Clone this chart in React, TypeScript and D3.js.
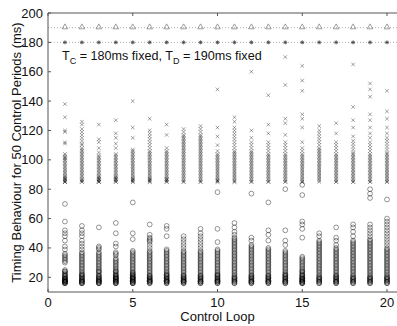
import React from 'react';
import * as d3 from 'd3';

// control loops 1..20, values in ms (dense columns thinned)
const loops = d3.range(1, 21);

const tc = 180;
const td = 190;

const circleVals: number[][] = [
  [70, 58, 52, 50, 48, 45, 41, 39, 36, 35, 34, 33, 32, 31, 30, 25, 24, 24, 23, 22, 22, 21, 21, 20, 20, 19, 19, 19, 18, 18, 18, 18, 17, 17, 17, 17, 17, 16, 16, 16],
  [55, 52, 50, 48, 45, 43, 41, 39, 37, 36, 35, 34, 33, 32, 31, 30, 29, 28, 27, 26, 25, 24, 23, 22, 22, 21, 21, 20, 20, 19, 19, 18, 18, 18, 17, 17, 17, 16, 16, 16],
  [54, 41, 40, 39, 37, 36, 35, 34, 33, 32, 31, 30, 29, 28, 27, 26, 25, 24, 24, 23, 22, 21, 21, 20, 20, 19, 19, 18, 18, 18, 17, 17, 17, 16, 16, 16],
  [57, 50, 43, 41, 37, 36, 35, 33, 32, 31, 30, 29, 28, 27, 26, 25, 24, 24, 23, 22, 22, 21, 21, 20, 20, 20, 19, 19, 19, 18, 18, 18, 17, 17, 17, 16, 16, 16],
  [71, 50, 46, 38, 37, 36, 35, 34, 33, 32, 31, 30, 29, 28, 27, 26, 25, 24, 23, 23, 22, 22, 21, 21, 20, 20, 20, 19, 19, 19, 18, 18, 18, 17, 17, 17, 16, 16, 16],
  [56, 49, 47, 46, 45, 44, 42, 40, 38, 37, 36, 35, 34, 33, 32, 31, 30, 29, 28, 27, 26, 25, 24, 23, 22, 21, 21, 20, 20, 19, 19, 18, 18, 18, 17, 17, 17, 16, 16],
  [55, 53, 48, 39, 38, 37, 36, 35, 34, 33, 32, 31, 30, 29, 28, 27, 26, 25, 24, 23, 22, 22, 21, 21, 20, 20, 19, 19, 18, 18, 18, 17, 17, 17, 16, 16],
  [48, 46, 44, 42, 40, 38, 37, 36, 35, 34, 33, 32, 31, 30, 29, 28, 27, 26, 25, 24, 23, 22, 21, 21, 20, 20, 19, 19, 18, 18, 18, 17, 17, 17, 16, 16],
  [53, 50, 48, 46, 44, 42, 40, 38, 37, 36, 35, 34, 33, 32, 31, 30, 29, 28, 27, 26, 25, 24, 23, 22, 21, 21, 20, 20, 19, 19, 18, 18, 17, 17, 17, 16, 16],
  [78, 53, 44, 39, 38, 37, 36, 35, 34, 33, 32, 31, 30, 29, 28, 27, 26, 25, 24, 23, 22, 22, 21, 21, 20, 20, 19, 19, 18, 18, 18, 17, 17, 17, 16, 16],
  [57, 54, 51, 49, 47, 46, 45, 44, 43, 42, 41, 40, 39, 38, 37, 36, 35, 34, 33, 32, 31, 30, 29, 28, 27, 26, 25, 24, 23, 22, 21, 20, 20, 19, 19, 18, 18, 17, 17, 16, 16],
  [77, 47, 45, 42, 41, 40, 39, 38, 37, 36, 35, 34, 33, 32, 31, 30, 29, 28, 27, 26, 25, 24, 23, 22, 21, 21, 20, 20, 19, 19, 18, 18, 17, 17, 17, 16, 16],
  [71, 52, 49, 45, 40, 39, 38, 37, 36, 35, 34, 33, 32, 31, 30, 29, 28, 27, 26, 25, 24, 23, 22, 21, 21, 20, 20, 19, 19, 18, 18, 17, 17, 17, 16, 16],
  [80, 52, 45, 42, 38, 37, 36, 35, 34, 33, 32, 31, 30, 29, 28, 27, 26, 25, 24, 23, 22, 22, 21, 21, 20, 20, 19, 19, 18, 18, 17, 17, 17, 16, 16],
  [83, 76, 58, 56, 53, 47, 34, 33, 32, 31, 30, 29, 28, 27, 26, 25, 24, 24, 23, 22, 22, 21, 21, 20, 20, 19, 19, 19, 18, 18, 18, 17, 17, 17, 16, 16, 16],
  [50, 48, 45, 44, 43, 42, 41, 40, 39, 38, 37, 36, 35, 34, 33, 32, 31, 30, 29, 28, 27, 26, 25, 24, 23, 22, 21, 20, 20, 19, 19, 18, 18, 17, 17, 16, 16],
  [54, 47, 45, 42, 40, 39, 38, 37, 36, 35, 34, 33, 32, 31, 30, 29, 28, 27, 26, 25, 24, 23, 22, 21, 21, 20, 20, 19, 19, 18, 18, 17, 17, 17, 16, 16],
  [56, 54, 51, 48, 45, 44, 43, 42, 41, 40, 39, 38, 37, 36, 35, 34, 33, 32, 31, 30, 29, 28, 27, 26, 25, 24, 23, 22, 21, 20, 20, 19, 19, 18, 18, 17, 17, 16, 16],
  [80, 77, 74, 56, 54, 52, 50, 48, 46, 45, 44, 43, 42, 41, 40, 39, 38, 37, 36, 35, 34, 33, 32, 31, 30, 29, 28, 27, 26, 25, 24, 23, 22, 21, 20, 20, 19, 19, 18, 18, 17, 17, 16, 16],
  [73, 60, 58, 56, 54, 52, 50, 48, 46, 44, 42, 40, 39, 38, 37, 36, 35, 34, 33, 32, 31, 30, 29, 28, 27, 26, 25, 24, 23, 22, 21, 20, 20, 19, 19, 18, 18, 17, 17, 16, 16],
];

const crossVals: number[][] = [
  [138, 129, 120, 119, 112, 111, 104, 103, 102, 101, 101, 100, 99, 98, 97, 96, 95, 94, 93, 92, 91, 90, 89, 88, 88, 87, 87, 86, 86, 85, 85, 85],
  [126, 124, 121, 119, 117, 115, 113, 111, 110, 108, 107, 106, 105, 104, 103, 102, 101, 100, 99, 98, 97, 96, 95, 94, 93, 92, 91, 90, 89, 88, 87, 86, 86, 85, 85],
  [124, 114, 112, 108, 105, 103, 102, 101, 100, 99, 98, 97, 96, 95, 94, 93, 92, 91, 90, 89, 88, 88, 87, 87, 86, 86, 85, 85, 85],
  [127, 118, 115, 111, 108, 104, 103, 102, 101, 100, 99, 98, 97, 96, 95, 94, 93, 92, 91, 90, 89, 88, 88, 87, 87, 86, 86, 85, 85],
  [140, 122, 115, 107, 106, 105, 104, 103, 102, 101, 100, 99, 98, 97, 96, 95, 94, 93, 92, 91, 90, 89, 88, 87, 87, 86, 86, 85, 85],
  [128, 120, 118, 116, 114, 112, 110, 108, 106, 105, 104, 103, 102, 101, 100, 99, 98, 97, 96, 95, 94, 93, 92, 91, 90, 89, 88, 87, 87, 86, 86, 85, 85],
  [124, 117, 108, 106, 105, 104, 103, 102, 101, 100, 99, 98, 97, 96, 95, 94, 93, 92, 91, 90, 89, 88, 87, 87, 86, 86, 85, 85],
  [121, 119, 117, 116, 115, 114, 113, 112, 111, 110, 109, 108, 107, 106, 105, 104, 103, 102, 101, 100, 99, 98, 97, 96, 95, 94, 93, 92, 91, 90, 89, 88, 87, 86, 85, 85],
  [123, 121, 119, 117, 116, 115, 114, 113, 112, 111, 110, 109, 108, 107, 106, 105, 104, 103, 102, 101, 100, 99, 98, 97, 96, 95, 94, 93, 92, 91, 90, 89, 88, 87, 86, 85, 85],
  [148, 122, 116, 110, 106, 104, 103, 102, 101, 100, 99, 98, 97, 96, 95, 94, 93, 92, 91, 90, 89, 88, 87, 86, 86, 85, 85],
  [129, 126, 122, 120, 118, 116, 114, 112, 110, 108, 106, 105, 104, 103, 102, 101, 100, 99, 98, 97, 96, 95, 94, 93, 92, 91, 90, 89, 88, 87, 86, 85, 85],
  [160, 120, 115, 112, 110, 108, 106, 105, 104, 103, 102, 101, 100, 99, 98, 97, 96, 95, 94, 93, 92, 91, 90, 89, 88, 87, 86, 85, 85],
  [144, 124, 118, 112, 110, 108, 106, 104, 103, 102, 101, 100, 99, 98, 97, 96, 95, 94, 93, 92, 91, 90, 89, 88, 87, 86, 85, 85],
  [170, 151, 128, 125, 117, 112, 110, 108, 106, 104, 103, 102, 101, 100, 99, 98, 97, 96, 95, 94, 93, 92, 91, 90, 89, 88, 87, 86, 85, 85],
  [164, 154, 147, 131, 128, 122, 112, 108, 106, 104, 103, 102, 101, 100, 99, 98, 97, 96, 95, 94, 93, 92, 91, 90, 89, 88, 87, 86, 85, 85],
  [123, 120, 118, 116, 114, 112, 110, 108, 107, 106, 105, 104, 103, 102, 101, 100, 99, 98, 97, 96, 95, 94, 93, 92, 91, 90, 89, 88, 87, 86, 85],
  [125, 118, 112, 110, 108, 106, 104, 103, 102, 101, 100, 99, 98, 97, 96, 95, 94, 93, 92, 91, 90, 89, 88, 87, 86, 85, 85],
  [165, 136, 127, 122, 116, 113, 111, 109, 107, 105, 104, 103, 102, 101, 100, 99, 98, 97, 96, 95, 94, 93, 92, 91, 90, 89, 88, 87, 86, 85, 85],
  [152, 148, 143, 131, 127, 122, 118, 115, 112, 110, 108, 106, 104, 103, 102, 101, 100, 99, 98, 97, 96, 95, 94, 93, 92, 91, 90, 89, 88, 87, 86, 85, 85],
  [147, 133, 128, 122, 118, 115, 113, 111, 109, 107, 105, 104, 103, 102, 101, 100, 99, 98, 97, 96, 95, 94, 93, 92, 91, 90, 89, 88, 87, 86, 85, 85],
];

const xTicks = [0, 5, 10, 15, 20];
const yTicks = [20, 40, 60, 80, 100, 120, 140, 160, 180, 200];

const W = 397;
const H = 326;
const font = 'Liberation Sans, Arial, sans-serif';

export default function App() {
  const x = d3.scaleLinear().domain([0, 20]).range([48, 387]);
  const y = d3.scaleLinear().domain([10, 200]).range([292, 13]);
  const left = x(0);
  const right = W + 2;
  const top = y(200);
  const bottom = y(10);
  const tri = d3.symbol().type(d3.symbolTriangle).size(14)();

  return (
    <svg width={W} height={H} style={{ position: 'absolute', left: 0, top: 0, background: '#fff' }}>
      {/* reference lines */}
      {[td, tc].map(v => (
        <line key={v} x1={left} x2={right} y1={y(v)} y2={y(v)} stroke="#999" strokeWidth={0.8} strokeDasharray="1,2" />
      ))}
      {loops.map(l => (
        <path key={'t' + l} d={tri} transform={`translate(${x(l)},${y(td) - 0.5})`} fill="none" stroke="#777" strokeWidth={0.7} />
      ))}
      {loops.map(l => (
        <g key={'s' + l} transform={`translate(${x(l)},${y(tc)})`} stroke="#444" strokeWidth={0.8}>
          <line x1={-2} x2={2} y1={0} y2={0} />
          <line x1={0} x2={0} y1={-2} y2={2} />
          <line x1={-1.5} x2={1.5} y1={-1.5} y2={1.5} />
          <line x1={-1.5} x2={1.5} y1={1.5} y2={-1.5} />
        </g>
      ))}
      {/* cross markers */}
      {crossVals.map((vals, i) =>
        vals.map((v, j) => {
          const cx = x(loops[i]);
          const cy = y(v);
          return (
            <path key={`x${i}-${j}`} d={`M${cx - 1.8},${cy - 1.8}L${cx + 1.8},${cy + 1.8}M${cx - 1.8},${cy + 1.8}L${cx + 1.8},${cy - 1.8}`}
              stroke="#000" strokeOpacity={0.45} strokeWidth={0.8} fill="none" />
          );
        })
      )}
      {/* circle markers */}
      {circleVals.map((vals, i) =>
        vals.map((v, j) => (
          <circle key={`c${i}-${j}`} cx={x(loops[i])} cy={y(v)} r={2.4} fill="none" stroke="#000" strokeOpacity={0.55} strokeWidth={0.75} />
        ))
      )}
      {/* axes box */}
      <line x1={left} x2={right} y1={top} y2={top} stroke="#555" strokeWidth={1} />
      <line x1={left} x2={right} y1={bottom} y2={bottom} stroke="#555" strokeWidth={1} />
      <line x1={left} x2={left} y1={top} y2={bottom} stroke="#555" strokeWidth={1} />
      {xTicks.map(t => (
        <g key={'xt' + t}>
          <line x1={x(t)} x2={x(t)} y1={bottom} y2={bottom - 3} stroke="#555" />
          <line x1={x(t)} x2={x(t)} y1={top} y2={top + 3} stroke="#555" />
          <text x={x(t)} y={307} textAnchor="middle" fontFamily={font} fontSize={13} fill="#111">{t}</text>
        </g>
      ))}
      {yTicks.map(t => (
        <g key={'yt' + t}>
          <line x1={left} x2={left + 3} y1={y(t)} y2={y(t)} stroke="#555" />
          <text x={43} y={y(t) + 4.5} textAnchor="end" fontFamily={font} fontSize={13} fill="#111">{t}</text>
        </g>
      ))}
      <text x={x(10)} y={321} textAnchor="middle" fontFamily={font} fontSize={13} fill="#111">Control Loop</text>
      <text transform={`translate(21,${(top + bottom) / 2}) rotate(-90)`} textAnchor="middle" fontFamily={font} fontSize={13} fill="#111">
        Timing Behaviour for 50 Control Periods (ms)
      </text>
      <text x={62} y={60} fontFamily={font} fontSize={12.6} fill="#111">
        T<tspan fontSize={9} dy={4}>C</tspan><tspan dy={-4}> = 180ms fixed, T</tspan><tspan fontSize={9} dy={4}>D</tspan><tspan dy={-4}> = 190ms fixed</tspan>
      </text>
    </svg>
  );
}
